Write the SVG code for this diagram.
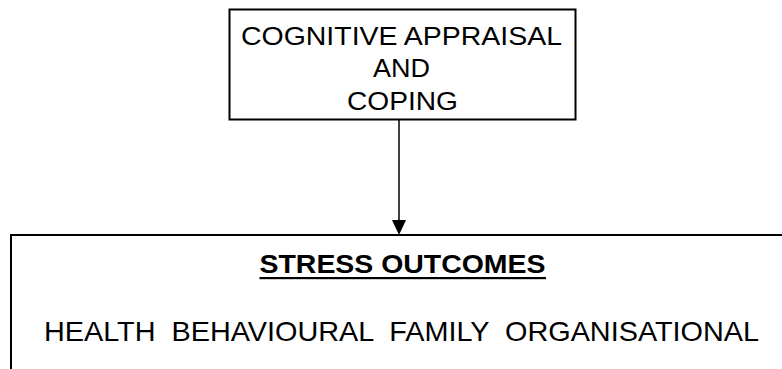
<svg xmlns="http://www.w3.org/2000/svg" width="782" height="369" viewBox="0 0 782 369">
<style>
.box{fill:#fff;stroke:#000;stroke-width:2}
.t{font-family:"Liberation Sans",Arial,sans-serif;fill:#000}
.conn{stroke:#000;stroke-width:1.5;fill:none}
</style>
<rect width="782" height="369" fill="#fff"/>
<g id="connectors">
<line class="conn" x1="399" y1="120" x2="399" y2="221"/>
<polygon points="392,220 406,220 399,235" fill="#000"/>
</g>
<g id="node-coping">
<rect class="box" x="229.5" y="9.5" width="346" height="110"/>
<text class="t" font-size="26" x="241" y="45" textLength="321" lengthAdjust="spacingAndGlyphs">COGNITIVE APPRAISAL</text>
<text class="t" font-size="26" x="373" y="77" textLength="57" lengthAdjust="spacingAndGlyphs">AND</text>
<text class="t" font-size="26" x="347" y="110" textLength="111" lengthAdjust="spacingAndGlyphs">COPING</text>
</g>
<g id="node-outcomes">
<rect class="box" x="11" y="235" width="800" height="200"/>
<text class="t" font-size="25" font-weight="bold" x="259.5" y="273.3" textLength="286" lengthAdjust="spacingAndGlyphs">STRESS OUTCOMES</text>
<rect x="259.5" y="277" width="286.5" height="2.2" fill="#000"/>
<text class="t" font-size="27.5" x="44" y="341" textLength="715" lengthAdjust="spacingAndGlyphs" xml:space="preserve" style="white-space:pre">HEALTH  BEHAVIOURAL  FAMILY  ORGANISATIONAL</text>
</g>
</svg>
